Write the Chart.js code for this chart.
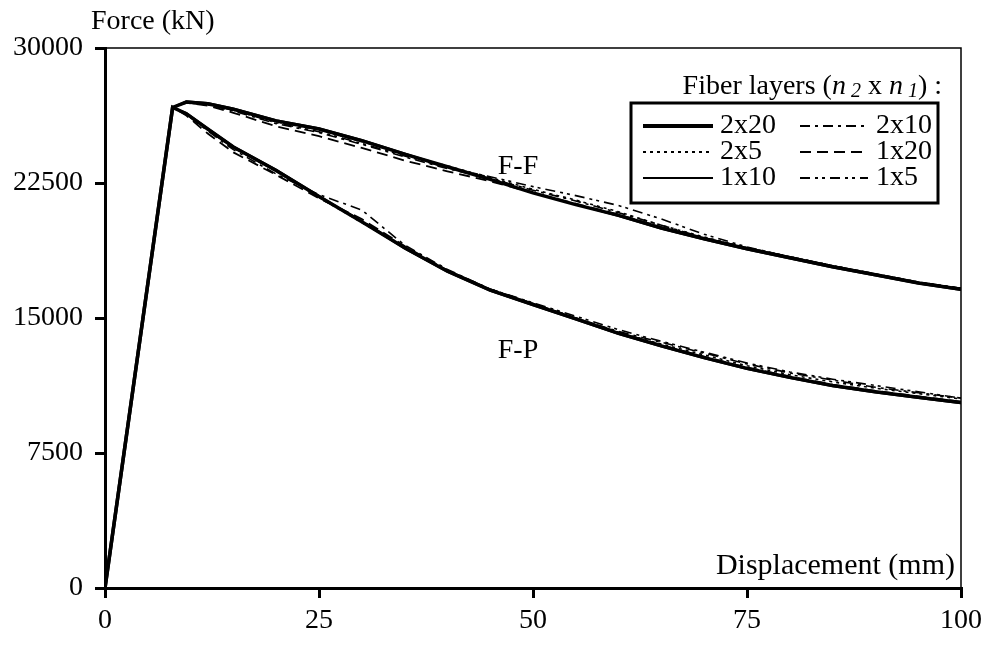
<!DOCTYPE html>
<html>
<head>
<meta charset="utf-8">
<script src="https://cdn.jsdelivr.net/npm/chart.js@4.4.1/dist/chart.umd.min.js"></script>
<style>
  html, body { margin: 0; padding: 0; background: #fff; }
  #wrap { width: 988px; height: 647px; }
</style>
</head>
<body>
<div id="wrap"><canvas id="chart" width="988" height="647"></canvas></div>
<script>
// Displacement (mm) sample points
const displacement = [0, 7.9, 9.5, 12, 15, 20, 25, 30, 35, 40, 45, 50, 55, 60, 65, 70, 75, 80, 85, 90, 95, 100];
const xTicks = [0, 25, 50, 75, 100];
const yTicks = [0, 7500, 15000, 22500, 30000];

// Force (kN), F-F case
const ff2x20 = [0, 26700, 27000, 26900, 26600, 25950, 25500, 24850, 24100, 23400, 22700, 21950, 21300, 20700, 20000, 19400, 18850, 18350, 17850, 17400, 16950, 16600];
const ff2x10 = [0, 26700, 26950, 26850, 26500, 25800, 25300, 24650, 23950, 23300, 22750, 22100, 21500, 20850, 20150, 19450, 18900, 18400, 17900, 17450, 17000, 16650];
const ff2x5  = [0, 26700, 27000, 26900, 26550, 25900, 25450, 24800, 24100, 23450, 22800, 22150, 21550, 20900, 20150, 19500, 18900, 18400, 17900, 17450, 17000, 16650];
const ff1x20 = [0, 26700, 26950, 26800, 26400, 25650, 25100, 24450, 23750, 23150, 22600, 21950, 21350, 20750, 20050, 19450, 18900, 18400, 17900, 17400, 16950, 16600];
const ff1x10 = [0, 26700, 27050, 26950, 26650, 26000, 25550, 24900, 24150, 23400, 22700, 21950, 21300, 20650, 19950, 19350, 18800, 18300, 17800, 17350, 16900, 16550];
const ff1x5  = [0, 26700, 27000, 26900, 26550, 25850, 25350, 24700, 24000, 23350, 22850, 22300, 21800, 21250, 20500, 19650, 18950, 18400, 17900, 17450, 17000, 16650];

// Force (kN), F-P case
const fp2x20 = [0, 26700, 26350, 25500, 24500, 23200, 21750, 20350, 18900, 17600, 16550, 15750, 14950, 14150, 13450, 12800, 12200, 11700, 11250, 10900, 10600, 10300];
const fp2x10 = [0, 26700, 26300, 25400, 24350, 23000, 21850, 21000, 19050, 17700, 16600, 15800, 15000, 14250, 13650, 13050, 12450, 11950, 11550, 11150, 10850, 10550];
const fp2x5  = [0, 26700, 26350, 25450, 24450, 23150, 21700, 20300, 18900, 17600, 16550, 15750, 14950, 14200, 13550, 12950, 12350, 11850, 11450, 11100, 10800, 10500];
const fp1x20 = [0, 26700, 26250, 25250, 24200, 22950, 21650, 20500, 19000, 17650, 16600, 15800, 15000, 14200, 13500, 12850, 12250, 11750, 11300, 10950, 10650, 10350];
const fp1x10 = [0, 26700, 26400, 25550, 24550, 23250, 21800, 20350, 18850, 17550, 16500, 15700, 14900, 14100, 13400, 12750, 12150, 11650, 11200, 10850, 10550, 10250];
const fp1x5  = [0, 26700, 26350, 25500, 24450, 23150, 21750, 20400, 18950, 17650, 16600, 15850, 15100, 14350, 13700, 13100, 12500, 12000, 11600, 11250, 10900, 10550];

const layers = ['2x20', '2x10', '2x5', '1x20', '1x10', '1x5'];
const ffSeries = [ff2x20, ff2x10, ff2x5, ff1x20, ff1x10, ff1x5];
const fpSeries = [fp2x20, fp2x10, fp2x5, fp1x20, fp1x10, fp1x5];

const FONT_FAMILY = '"Liberation Serif", "DejaVu Serif", serif';
const FONT_SIZE = 28;

// line styles per layer
const lineStyle = {
    '2x20': { width: 3.5, dash: [] },
    '2x10': { width: 1.6, dash: [10, 5, 3, 5] },
    '2x5':  { width: 1.6, dash: [3, 4] },
    '1x20': { width: 1.8, dash: [11, 6] },
    '1x10': { width: 1.6, dash: [] },
    '1x5':  { width: 1.6, dash: [10, 5, 3, 4, 3, 5] }
};

function makeDataset(label, values) {
    const st = lineStyle[label];
    return {
        label: label,
        data: displacement.map((x, i) => ({ x: x, y: values[i] })),
        borderColor: '#000',
        borderWidth: st.width,
        borderDash: st.dash,
        pointRadius: 0,
        fill: false,
        tension: 0
    };
}

const datasets = [];
layers.forEach((l, i) => datasets.push(makeDataset(l, ffSeries[i])));
layers.forEach((l, i) => datasets.push(makeDataset(l, fpSeries[i])));

// frame, texts and boxed legend
const overlay = {
    id: 'overlay',
    afterDraw(chart) {
        const ctx = chart.ctx;
        const a = chart.chartArea;
        ctx.save();
        ctx.strokeStyle = '#000';
        ctx.lineWidth = 1.5;
        ctx.beginPath();
        ctx.moveTo(a.left, a.top);
        ctx.lineTo(a.right, a.top);
        ctx.lineTo(a.right, a.bottom);
        ctx.stroke();

        const font = FONT_SIZE + 'px ' + FONT_FAMILY;
        ctx.fillStyle = '#000';
        ctx.font = font;
        ctx.textBaseline = 'middle';
        ctx.textAlign = 'left';
        ctx.fillText('Force (kN)', 91, 22);
        ctx.textAlign = 'right';
        ctx.font = '30px ' + FONT_FAMILY;
        ctx.fillText('Displacement (mm)', 955, 566);
        ctx.font = font;
        ctx.textAlign = 'center';
        ctx.fillText('F-F', 518, 167);
        ctx.fillText('F-P', 518, 351);

        // legend title with italic n and subscripts
        const italic = 'italic ' + font;
        const sub = 'italic ' + Math.round(FONT_SIZE * 0.7) + 'px ' + FONT_FAMILY;
        const parts = [
            ['Fiber layers (', font, 0],
            ['n', italic, 0],
            [' 2', sub, 5],
            [' x ', font, 0],
            ['n', italic, 0],
            [' 1', sub, 5],
            [') :', font, 0]
        ];
        let total = 0;
        parts.forEach(p => { ctx.font = p[1]; total += ctx.measureText(p[0]).width; });
        let px = 942 - total;
        ctx.textAlign = 'left';
        parts.forEach(p => {
            ctx.font = p[1];
            ctx.fillText(p[0], px, 87 + p[2]);
            px += ctx.measureText(p[0]).width;
        });

        // legend box
        ctx.fillStyle = '#fff';
        ctx.fillRect(631, 103, 307, 100);
        ctx.lineWidth = 3;
        ctx.strokeStyle = '#000';
        ctx.strokeRect(631, 103, 307, 100);

        const rows = [126, 152, 178];
        const cols = [[643, 713, 720], [800, 868, 876]];
        ctx.font = font;
        ctx.fillStyle = '#000';
        layers.forEach((l, i) => {
            const r = rows[Math.floor(i / 2)];
            const c = cols[i % 2];
            const st = lineStyle[l];
            ctx.lineWidth = st.width === 3.5 ? 4 : 2;
            ctx.setLineDash(st.dash);
            ctx.beginPath();
            ctx.moveTo(c[0], r);
            ctx.lineTo(c[1], r);
            ctx.stroke();
            ctx.setLineDash([]);
            ctx.fillText(l, c[2], r);
        });
        ctx.restore();
    }
};

new Chart(document.getElementById('chart'), {
    type: 'line',
    data: { datasets: datasets },
    options: {
        responsive: false,
        animation: false,
        devicePixelRatio: 1,
        layout: { padding: { top: 48, right: 26, left: 0, bottom: 0 } },
        plugins: {
            legend: { display: false },
            tooltip: { enabled: false }
        },
        scales: {
            x: {
                type: 'linear',
                min: 0,
                max: 100,
                afterBuildTicks: s => { s.ticks = xTicks.map(v => ({ value: v })); },
                afterFit: s => { s.height = 59; },
                grid: { drawOnChartArea: false, drawTicks: true, tickLength: 10, color: '#000', lineWidth: 3 },
                border: { display: true, color: '#000', width: 3 },
                ticks: { color: '#000', font: { family: FONT_FAMILY, size: FONT_SIZE }, padding: 6, maxRotation: 0 }
            },
            y: {
                type: 'linear',
                min: 0,
                max: 30000,
                afterBuildTicks: s => { s.ticks = yTicks.map(v => ({ value: v })); },
                afterFit: s => { s.width = 105; },
                grid: { drawOnChartArea: false, drawTicks: true, tickLength: 10, color: '#000', lineWidth: 3 },
                border: { display: true, color: '#000', width: 3 },
                ticks: { color: '#000', font: { family: FONT_FAMILY, size: FONT_SIZE }, padding: 12, callback: v => String(v) }
            }
        }
    },
    plugins: [overlay]
});
</script>
</body>
</html>
